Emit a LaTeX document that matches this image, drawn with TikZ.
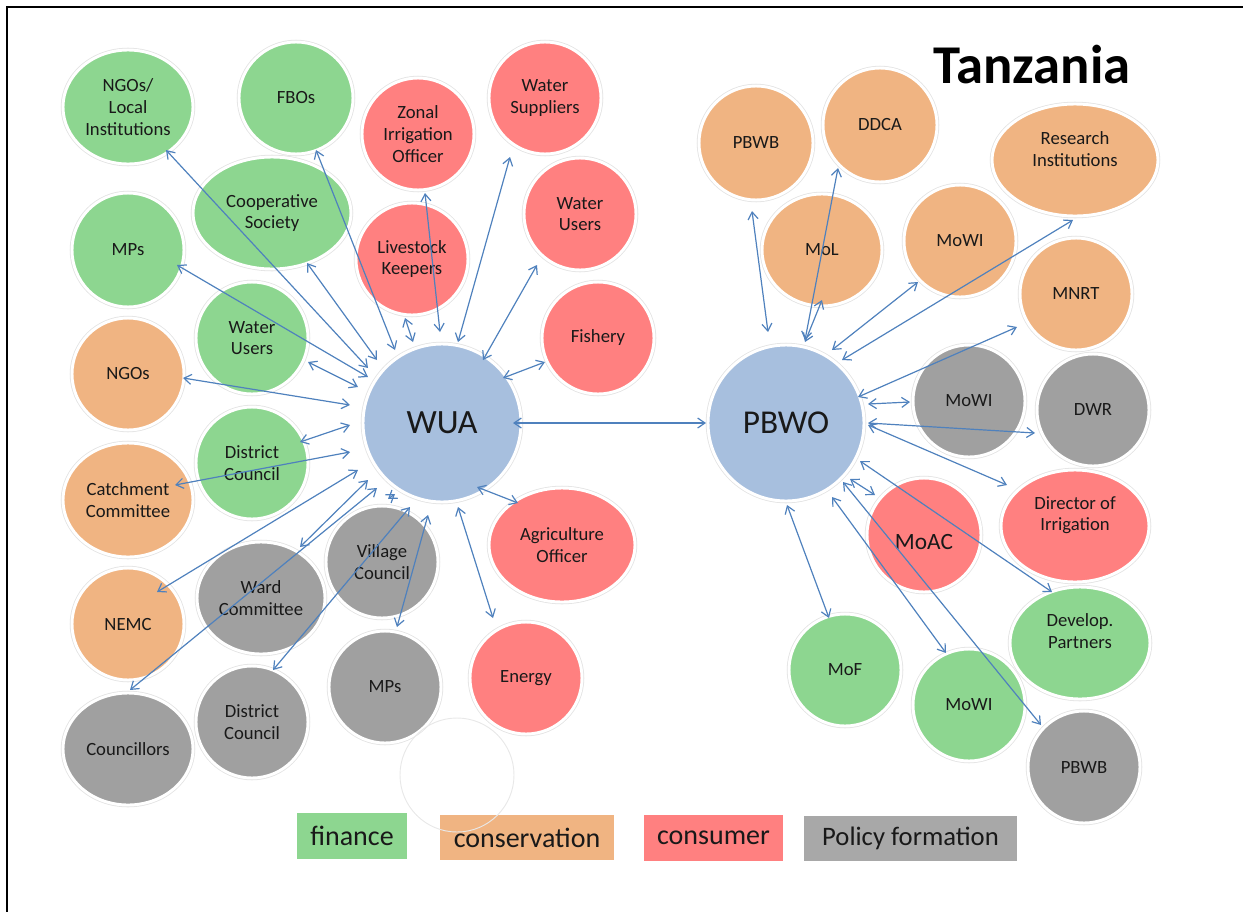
\documentclass[tikz,border=0pt]{standalone}
\usepackage{fontspec}
\setmainfont{Carlito}
\usetikzlibrary{shapes.geometric,arrows.meta,calc}
\definecolor{fin}{RGB}{141,214,144}
\definecolor{cons}{RGB}{240,180,130}
\definecolor{cnsm}{RGB}{255,128,128}
\definecolor{pol}{RGB}{160,160,160}
\definecolor{hub}{RGB}{167,191,222}
\definecolor{arrowc}{RGB}{79,129,189}
\newcommand\blobfont{\fontsize{14}{16.2}\selectfont}
\begin{document}
\begin{tikzpicture}[x=0.75pt,y=-0.75pt,
  blob/.style n args={3}{ellipse, inner sep=0pt, minimum width=#1*1.5pt, minimum height=#2*1.5pt,
    fill=#3, draw=white, line width=2.2pt, preaction={draw=black!11, line width=3.4pt},
    align=center, font=\blobfont, text=black!90},
  lbl/.style={align=center, font=\blobfont, text=black!90},
  arr/.style={draw=arrowc, line width=0.9pt, >={Straight Barb[length=5.5pt,width=7.5pt]}, <->},
  leg/.style={rectangle, inner sep=0pt, text=black!90, font=\fontsize{21}{25}\selectfont}]
\useasboundingbox (0,0) rectangle (1243,911);
\draw[line width=1.6pt] (7,7) rectangle (1262,930);

% title
\node[anchor=base, font=\bfseries\fontsize{41}{49}\selectfont, text=black] (title) at (1032,83) {Tanzania};

% finance (left)
\node[blob={65}{57}{fin}] (ngosl) at (128,107) {NGOs/\\Local\\Institutions};
\node[blob={57}{56}{fin}] (fbos) at (296,98) {FBOs};
\node[blob={79}{56}{fin}] (coop) at (272,213) {Cooperative\\Society};
\node[blob={56}{57}{fin}] (mpsg) at (128,250) {MPs};
\node[blob={56}{56}{fin}] (wug) at (252,338) {Water\\Users};
\node[blob={56}{56}{fin}] (dcg) at (252,463) {District\\Council};
% conservation (left)
\node[blob={56}{56}{cons}] (ngoso) at (128,374) {NGOs};
\node[blob={65}{57}{cons}] (catch) at (128,500) {Catchment\\Committee};
\node[blob={56}{56}{cons}] (nemc) at (128,624) {NEMC};
% policy (left)
\node[blob={65}{56}{pol}] (coun) at (128,749) {Councillors};
\node[blob={56}{56}{pol}] (dcgr) at (252,722) {District\\Council};
\node[blob={64}{56}{pol}] (ward) at (261,598) {Ward\\Committee};
\node[blob={56}{56}{pol}] (vc) at (382,562) {Village\\Council};
\node[blob={56}{56}{pol}] (mpsgr) at (385,687) {MPs};
% consumer (middle)
\node[blob={56}{56}{cnsm}] (zio) at (418,134) {Zonal\\Irrigation\\Officer};
\node[blob={56}{56}{cnsm}] (ws) at (545,98) {Water\\Suppliers};
\node[blob={56}{56}{cnsm}] (lk) at (412,259) {Livestock\\Keepers};
\node[blob={56}{56}{cnsm}] (wur) at (580,214) {Water\\Users};
\node[blob={56}{56}{cnsm}] (fish) at (598,338) {Fishery};
\node[blob={73}{57}{cnsm}] (agri) at (562,545) {Agriculture\\Officer};
\node[blob={56}{56}{cnsm}] (energy) at (526,678) {Energy};
% hubs
\node[blob={79}{79}{hub}, font=\fontsize{25.5}{30}\selectfont] (wua) at (442,423) {WUA};
\node[blob={78}{78}{hub}, font=\fontsize{25}{30}\selectfont] (pbwo) at (786,423) {PBWO};
% right side
\node[blob={57}{57}{cons}] (pbwbo) at (756,143) {PBWB};
\node[blob={57}{57}{cons}] (ddca) at (880,125) {DDCA};
\node[blob={83}{56}{cons}, label={[lbl, yshift=8pt]center:Research\\Institutions}] (res) at (1075,160) {};
\node[blob={60}{56}{cons}] (mol) at (822,250) {MoL};
\node[blob={56}{56}{cons}] (mowio) at (960,241) {MoWI};
\node[blob={56}{56}{cons}] (mnrt) at (1076,294) {MNRT};
\node[blob={56}{56}{pol}] (mowig) at (969,401) {MoWI};
\node[blob={56}{56}{pol}] (dwr) at (1093,410) {DWR};
\node[blob={74}{56}{cnsm}, label={[lbl, yshift=8pt]center:Director of\\Irrigation}] (doi) at (1075,526) {};
\node[blob={57}{57}{cnsm}, label={[lbl, yshift=-5pt, font=\fontsize{17.5}{20}\selectfont]center:MoAC}] (moac) at (924,535) {};
\node[blob={70}{56}{fin}, label={[lbl, yshift=9pt]center:Develop.\\Partners}] (dp) at (1080,643) {};
\node[blob={56}{56}{fin}] (mof) at (845,670) {MoF};
\node[blob={56}{56}{fin}] (mowigr) at (969,705) {MoWI};
\node[blob={56}{56}{pol}] (pbwbg) at (1084,767) {PBWB};

% legend
\node[leg, fill=fin, minimum width=82.5pt, minimum height=34.5pt] (lfin) at (352,836) {finance};
\node[leg, fill=cons, minimum width=130.5pt, minimum height=33.75pt] (lcons) at (527,837.5) {conservation};
\node[leg, fill=cnsm, minimum width=104.25pt, minimum height=34.5pt] (lcnsm) at (713.5,838) {consumer};
\node[leg, fill=pol!92!white, minimum width=159.75pt, minimum height=33.75pt, font=\fontsize{20}{24}\selectfont] (lpol) at (910.5,838.5) {Policy formation};

% empty circle
\node[ellipse, inner sep=0pt, minimum width=85.5pt, minimum height=85.5pt, draw=black!9, line width=0.7pt] (empty) at (457,775) {};

% WUA connectors
\draw[arr] ($(wua)+(-74,-55)$) -- ($(ngosl)+(38,43)$);
\draw[arr] ($(wua)+(-47,-73)$) -- ($(fbos)+(20,52)$);
\draw[arr] ($(wua)+(-65,-63)$) -- ($(coop)+(35,50)$);
\draw[arr] ($(wua)+(-74,-46)$) -- ($(mpsg)+(49,15)$);
\draw[arr] ($(wua)+(-84,-36)$) -- ($(wug)+(56,24)$);
\draw[arr] ($(wua)+(-92,-18)$) -- ($(ngoso)+(55,4)$);
\draw[arr] ($(wua)+(-92,2)$) -- ($(dcg)+(48,-21)$);
\draw[arr] ($(wua)+(-92,29)$) -- ($(catch)+(47,-15)$);
\draw[arr] ($(wua)+(-84,47)$) -- ($(nemc)+(29,-32)$);
\draw[arr] ($(wua)+(-74,57)$) -- ($(ward)+(39,-51)$);
\draw[arr] ($(wua)+(-65,65)$) -- ($(coun)+(2,-59)$);
\draw[arr] ($(wua)+(-54,76)$) -- ($(wua)+(-47,71)$);
\draw[arr] ($(wua)+(-32,84)$) -- ($(dcgr)+(21,-52)$);
\draw[arr] ($(wua)+(-14,92)$) -- ($(mpsgr)+(12,-60)$);
\draw[arr] ($(wua)+(16,84)$) -- ($(energy)+(-33,-60)$);
\draw[arr] ($(wua)+(35,64)$) -- ($(agri)+(-44,-42)$);
\draw[arr] ($(wua)+(61,-45)$) -- ($(fish)+(-53,24)$);
\draw[arr] ($(wua)+(41,-63)$) -- ($(wur)+(-43,51)$);
\draw[arr] ($(wua)+(16,-81)$) -- ($(ws)+(-35,59)$);
\draw[arr] ($(wua)+(-2,-91)$) -- ($(zio)+(7,59)$);
\draw[arr] ($(wua)+(-29,-81)$) -- ($(lk)+(-7,59)$);
\draw[arr] ($(wua)+(71,0)$) -- ($(pbwo)+(-80,0)$);

% PBWO connectors
\draw[arr] ($(pbwo)+(-18,-91)$) -- ($(pbwbo)+(-4,68)$);
\draw[arr] ($(pbwo)+(19,-83)$) -- ($(ddca)+(-42,43)$);
\draw[arr] ($(pbwo)+(19,-81)$) -- ($(mol)+(0,50)$);
\draw[arr] ($(pbwo)+(46,-73)$) -- ($(mowio)+(-42,41)$);
\draw[arr] ($(pbwo)+(56,-63)$) -- ($(res)+(-2,60)$);
\draw[arr] ($(pbwo)+(72,-26)$) -- ($(mnrt)+(-59,33)$);
\draw[arr] ($(pbwo)+(82,-19)$) -- ($(mowig)+(-59,1)$);
\draw[arr] ($(pbwo)+(82,0)$) -- ($(dwr)+(-58,23)$);
\draw[arr] ($(pbwo)+(82,2)$) -- ($(doi)+(-68,-41)$);
\draw[arr] ($(pbwo)+(64,56)$) -- ($(moac)+(-49,-40)$);
\draw[arr] ($(pbwo)+(74,38)$) -- ($(dp)+(-28,-51)$);
\draw[arr] ($(pbwo)+(46,74)$) -- ($(mowigr)+(-23,-52)$);
\draw[arr] ($(pbwo)+(57,59)$) -- ($(pbwbg)+(-43,-42)$);
\draw[arr] ($(pbwo)+(1,82)$) -- ($(mof)+(-16,-52)$);
\end{tikzpicture}
\end{document}
